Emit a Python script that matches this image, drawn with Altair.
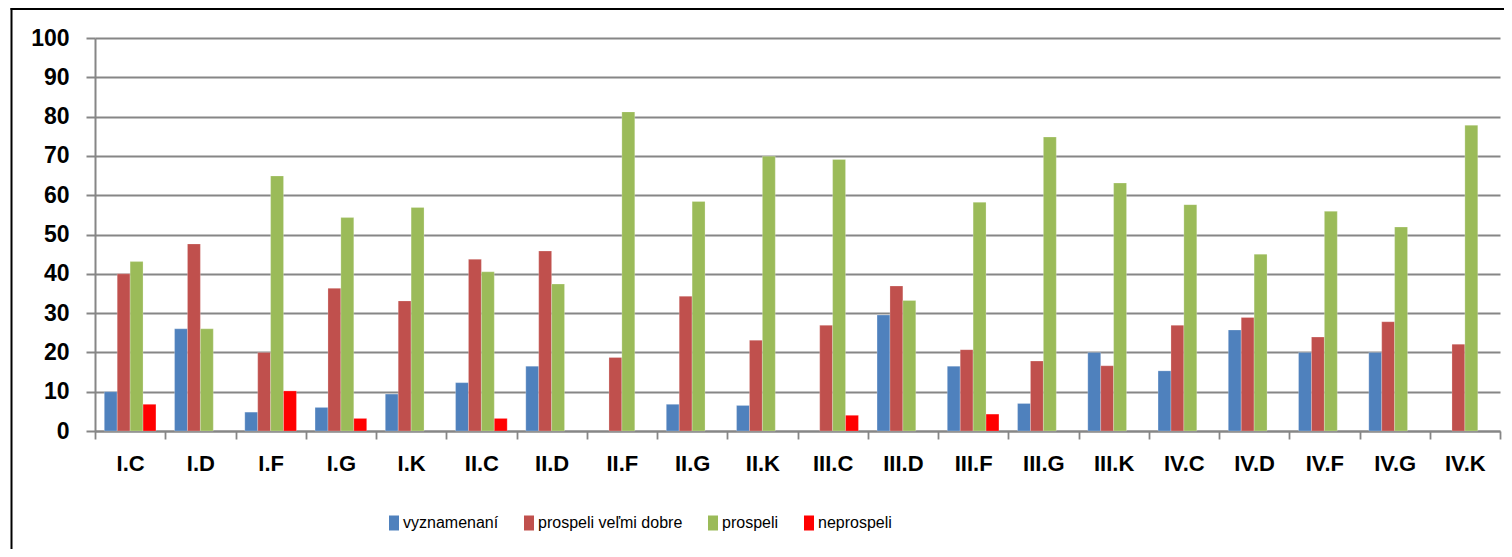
import altair as alt
import pandas as pd

categories = ["I.C", "I.D", "I.F", "I.G", "I.K", "II.C", "II.D", "II.F", "II.G", "II.K",
              "III.C", "III.D", "III.F", "III.G", "III.K", "IV.C", "IV.D", "IV.F", "IV.G", "IV.K"]
series_names = ["vyznamenaní", "prospeli veľmi dobre", "prospeli", "neprospeli"]
series_colors = ["#4F81BD", "#C0504D", "#9BBB59", "#FF0000"]

vyznamenani = [10.0, 26.0, 4.8, 6.0, 9.4, 12.3, 16.5, 0, 6.8, 6.5,
               0, 29.5, 16.5, 7.0, 20.0, 15.3, 25.7, 20.0, 20.0, 0]
prospeli_velmi_dobre = [40.0, 47.6, 20.0, 36.3, 33.1, 43.7, 45.8, 18.7, 34.3, 23.1,
                        26.9, 36.9, 20.7, 17.8, 16.6, 26.9, 28.9, 23.9, 27.8, 22.1]
prospeli = [43.1, 26.0, 64.9, 54.3, 56.9, 40.5, 37.4, 81.2, 58.4, 69.9,
            69.1, 33.2, 58.2, 74.8, 63.1, 57.6, 45.0, 55.9, 51.9, 77.8]
neprospeli = [6.8, 0, 10.2, 3.2, 0, 3.2, 0, 0, 0, 0,
              4.0, 0, 4.3, 0, 0, 0, 0, 0, 0, 0]
y_ticks = list(range(0, 101, 10))

rows = []
for name, vals in zip(series_names, [vyznamenani, prospeli_velmi_dobre, prospeli, neprospeli]):
    for c, v in zip(categories, vals):
        if v > 0:
            rows.append({"trieda": c, "skupina": name, "hodnota": v})
df = pd.DataFrame(rows)

FONT = "Liberation Sans"
GRID = "#868686"

bars = alt.Chart(df).mark_bar(stroke="white", strokeWidth=0.4, strokeOpacity=0.6).encode(
    x=alt.X("trieda:N", sort=categories, title=None,
            scale=alt.Scale(paddingInner=0, paddingOuter=0),
            axis=alt.Axis(labelAngle=0, tickBand="extent", tickSize=8, tickColor=GRID,
                          tickWidth=1.8, domainColor=GRID, domainWidth=2,
                          labelFont=FONT, labelFontSize=22, labelFontWeight="bold",
                          labelColor="black", labelPadding=14, grid=False)),
    xOffset=alt.XOffset("skupina:N", sort=series_names,
                        scale=alt.Scale(paddingOuter=0.72, paddingInner=0)),
    y=alt.Y("hodnota:Q", title=None,
            scale=alt.Scale(domain=[0, 100], nice=False),
            axis=alt.Axis(values=y_ticks, grid=True, gridColor=GRID, gridWidth=2,
                          tickSize=9, tickColor=GRID, tickWidth=2,
                          domainColor=GRID, domainWidth=2,
                          labelFont=FONT, labelFontSize=23, labelFontWeight="bold",
                          labelColor="black", labelPadding=17)),
    color=alt.Color("skupina:N", sort=series_names,
                    scale=alt.Scale(domain=series_names, range=series_colors),
                    legend=alt.Legend(title=None, orient="none", direction="horizontal",
                                      legendX=291, legendY=477,
                                      symbolType="M-0.667,-1H0.667V1H-0.667Z",
                                      symbolSize=225, symbolStrokeWidth=0,
                                      labelFont=FONT, labelFontSize=16,
                                      labelColor="black",
                                      labelOffset=1, columnPadding=22, labelLimit=400)),
)

frame_df = pd.DataFrame({"a": [0]})
frame_left = alt.Chart(frame_df).mark_rule(color="black", strokeWidth=2).encode(
    x=alt.value(-83.5), y=alt.value(-30), y2=alt.value(700))
frame_top = alt.Chart(frame_df).mark_rule(color="black", strokeWidth=2).encode(
    x=alt.value(-84.5), x2=alt.value(1600), y=alt.value(-29))

chart = alt.layer(frame_left, frame_top, bars).properties(
    width=1405, height=393,
    autosize=alt.AutoSizeParams(type="none"),
    padding={"left": 87, "top": 30, "right": 4, "bottom": 118},
).configure_view(stroke=None)

chart.save("out.html", embed_options={"renderer": "svg", "actions": False})
